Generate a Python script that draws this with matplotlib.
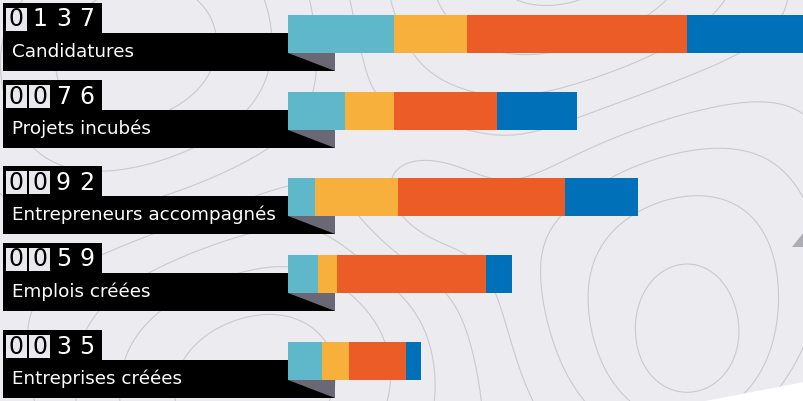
import numpy as np
import matplotlib
matplotlib.use('Agg')
import matplotlib.pyplot as plt
from matplotlib.patches import Rectangle, Polygon

# data
labels   = ['Candidatures', 'Projets incubés', 'Entrepreneurs accompagnés',
            'Emplois créées', 'Entreprises créées']
totals   = [137, 76, 92, 59, 35]
seg_a    = [28, 15, 7, 8, 9]
seg_b    = [19, 13, 22, 5, 7]
seg_c    = [58, 27, 44, 39, 15]
seg_d    = [32, 21, 19, 7, 4]
colors   = ['#5fb8c9', '#f8b03c', '#eb5c27', '#0071b9']

# layout (pixels)
W, H = 804, 401
label_top = [33, 110, 196, 273, 360]
bar_x0 = 288
px_per_unit = 3.8
bg = '#ecebef'

fig = plt.figure(figsize=(W / 100, H / 100), dpi=100)
fig.patch.set_facecolor(bg)

ax = fig.add_axes([0, 0, 1, 1])
ax.set_xlim(0, W)
ax.set_ylim(H, 0)
ax.axis('off')
ax.set_facecolor(bg)

# decorative topo lines in the background
gx, gy = np.meshgrid(np.linspace(0, W, 300), np.linspace(0, H, 160))
field = (np.sin(gx / 110.0 + gy / 160.0) + 0.8 * np.cos(gy / 90.0 - gx / 230.0)
         + 1.2 * np.exp(-((gx - 700) ** 2 + (gy - 390) ** 2) / 9000.0)
         + 0.9 * np.exp(-((gx - 420) ** 2 + (gy - 200) ** 2) / 6000.0))
ax.contour(gx, gy, field, levels=8, colors='#cac9ce', linewidths=0.8,
           linestyles='solid', zorder=1)

# white corner bottom right and small grey triangle
ax.add_patch(Polygon([(705, 401), (804, 382), (804, 401)], closed=True,
                     facecolor='white', edgecolor='none', zorder=2))
ax.add_patch(Polygon([(792, 247), (804, 232), (804, 247)], closed=True,
                     facecolor='#aeadb5', edgecolor='none', zorder=2))

for lab, tot, top in zip(labels, totals, label_top):
    # counter box
    ax.add_patch(Rectangle((3, top - 30), 99, 30, facecolor='black',
                           edgecolor='none', zorder=3))
    digits = '%04d' % tot
    leading = True
    for i, d in enumerate(digits):
        cx = 16.5 + i * 23.5
        if leading and d == '0':
            ax.add_patch(Rectangle((cx - 10.5, top - 25), 21, 23,
                                   facecolor='#e9e8ec', edgecolor='none', zorder=4))
            col = 'black'
        else:
            leading = False
            col = 'white'
        ax.text(cx, top - 13.5, d, color=col, fontsize=17, ha='center',
                va='center', zorder=5, family='DejaVu Sans')
    # label box
    ax.add_patch(Rectangle((3, top), 332, 38, facecolor='black',
                           edgecolor='none', zorder=3))
    ax.add_patch(Polygon([(bar_x0, top + 20), (335, top + 20), (335, top + 38)],
                         closed=True, facecolor='#696874', edgecolor='none', zorder=4))
    ax.text(12, top + 19, lab, color='white', fontsize=13.2, ha='left',
            va='center', zorder=5, family='DejaVu Sans')

# stacked bars
bax = fig.add_axes([bar_x0 / W, 0, (W - bar_x0) / W, 1])
bax.set_xlim(0, (W - bar_x0) / px_per_unit)
bax.set_ylim(H, 0)
bax.axis('off')
bax.patch.set_alpha(0)

centers = [t + 1 for t in label_top]
left = np.zeros(len(labels))
for seg, c in zip([seg_a, seg_b, seg_c, seg_d], colors):
    bax.barh(centers, seg, left=left, height=38, color=c, edgecolor='none')
    left += np.array(seg)

fig.savefig('out.png', dpi=100, facecolor=bg)
